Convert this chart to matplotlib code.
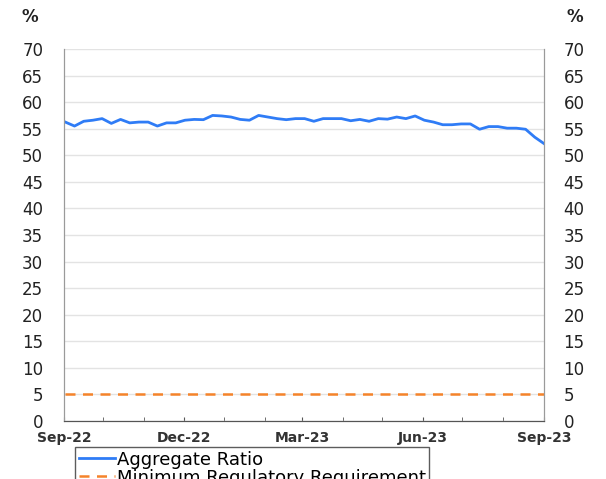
import pandas as pd
import numpy as np
import matplotlib.pyplot as plt
import matplotlib.dates as mdates

# weekly aggregate ratio, Sep-22 to Sep-23
dates = pd.date_range('2022-09-02', '2023-09-01', freq='W-FRI')
aggregate = [56.25, 55.5, 56.4, 56.6, 56.9, 56.0, 56.75, 56.1, 56.25, 56.25,
             55.5, 56.1, 56.1, 56.6, 56.75, 56.7, 57.5, 57.4, 57.2, 56.75,
             56.6, 57.5, 57.2, 56.9, 56.7, 56.9, 56.9, 56.4, 56.9, 56.9,
             56.9, 56.5, 56.75, 56.4, 56.9, 56.8, 57.2, 56.9, 57.4, 56.6,
             56.25, 55.75, 55.75, 55.9, 55.9, 54.9, 55.4, 55.4, 55.1, 55.1,
             54.9, 53.4, 52.2]
minimum = [5] * len(dates)
yticks = list(range(0, 75, 5))

fig = plt.figure(figsize=(6.06, 4.79), dpi=100)
ax = fig.add_axes([0.1056, 0.1211, 0.7921, 0.7766])

ax.plot(dates, aggregate, color='#2f7cf6', lw=2, label='Aggregate Ratio')
ax.plot(dates, minimum, color='#f5832a', lw=1.8, ls=(0, (4, 3)), label='Minimum Regulatory Requirement')

ax.set_ylim(0, 70)
ax.set_xlim(pd.Timestamp('2022-09-01'), pd.Timestamp('2023-09-01'))
ax.set_yticks(yticks)
ax.grid(axis='y', color='#e3e3e3', lw=1)
ax.set_axisbelow(True)

ax.xaxis.set_major_locator(mdates.MonthLocator(bymonth=[3, 6, 9, 12]))
ax.xaxis.set_major_formatter(mdates.DateFormatter('%b-%y'))
ax.xaxis.set_minor_locator(mdates.MonthLocator())
ax.tick_params(axis='x', which='both', direction='in', length=3, color='#555555',
               labelsize=10, pad=7)
ax.tick_params(axis='y', length=0, labelsize=12, pad=15, labelcolor='#222222')
for lab in ax.get_xticklabels():
    lab.set_fontweight('bold')
    lab.set_color('#333333')

ax2 = ax.twinx()
ax2.set_ylim(0, 70)
ax2.set_yticks(yticks)
ax2.tick_params(axis='y', length=0, labelsize=12, pad=14, labelcolor='#222222')

for a in (ax, ax2):
    a.spines['top'].set_visible(False)
    a.spines['left'].set_color('#9a9a9a')
    a.spines['right'].set_color('#9a9a9a')
    a.spines['bottom'].set_color('#555555')

fig.text(0.035, 0.955, '%', fontsize=12, fontweight='bold', color='#222222')
fig.text(0.935, 0.955, '%', fontsize=12, fontweight='bold', color='#222222')

leg = ax.legend(loc='upper left', bbox_to_anchor=(75 / 606, 1 - 447 / 479),
                bbox_transform=fig.transFigure, fontsize=13, frameon=True,
                fancybox=False, borderpad=0.2, handlelength=2.0, handletextpad=0.1,
                labelspacing=0.0, borderaxespad=0)
leg.get_frame().set_edgecolor('#333333')
leg.get_frame().set_linewidth(1)

fig.savefig('out.png', dpi=100)
